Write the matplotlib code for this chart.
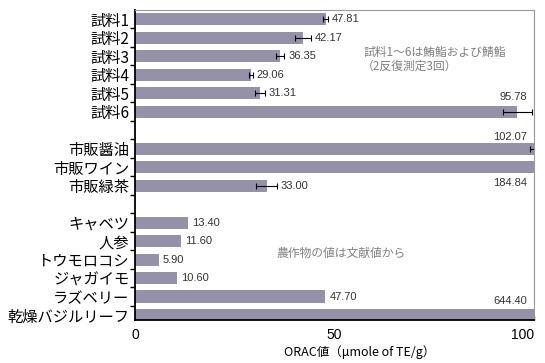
import matplotlib
matplotlib.use("Agg")
import matplotlib.pyplot as plt
import numpy as np

plt.rcParams['font.family'] = ['Noto Sans CJK JP', 'DejaVu Sans']

# ── data ─────────────────────────────────────────────────────────────────────
sample_labels = ["試料1", "試料2", "試料3", "試料4", "試料5", "試料6"]
sample_values = [47.81, 42.17, 36.35, 29.06, 31.31, 95.78]
sample_errors = [0.6, 2.0, 1.1, 0.5, 1.2, 3.6]

market_labels = ["市販醤油", "市販ワイン", "市販緑茶"]
market_values = [102.07, 184.84, 33.00]
market_errors = [3.0, 0.0, 2.6]

crop_labels = ["キャベツ", "人参", "トウモロコシ", "ジャガイモ", "ラズベリー", "乾燥バジルリーフ"]
crop_values = [13.40, 11.60, 5.90, 10.60, 47.70, 644.40]

x_ticks = [0, 50, 100]

# ── colours ──────────────────────────────────────────────────────────────────
C_BAR = "#9591a9"
C_NOTE = "#808080"
C_VAL = "#333333"
NUM_FONT = ["Liberation Sans", "DejaVu Sans"]

fig = plt.figure(figsize=(5.45, 3.63), dpi=100)
ax = fig.add_axes([135 / 545, 1 - 320 / 363, 399 / 545, 310 / 363])

# build rows: groups separated by one empty slot
labels, values, errors, pos = [], [], [], []
y = 0
for lbls, vals, errs in [(sample_labels, sample_values, sample_errors),
                         (market_labels, market_values, market_errors),
                         (crop_labels, crop_values, [0.0] * len(crop_values))]:
    for l, v, e in zip(lbls, vals, errs):
        labels.append(l); values.append(v); errors.append(e); pos.append(y)
        y += 1
    y += 1
pos = np.array(pos)
values = np.array(values)
errors = np.array(errors)

ax.barh(pos, values, height=0.65, color=C_BAR, zorder=2)
has_err = errors > 0
ax.errorbar(values[has_err], pos[has_err], xerr=errors[has_err], fmt="none",
            ecolor="black", elinewidth=0.8, capsize=2.2, capthick=0.8, zorder=3)

# value labels (bars reaching the right edge get their label above / below)
for p, v, e in zip(pos, values, errors):
    txt = f"{v:.2f}"
    if v > 90:
        if 150 < v < 200:
            dy = 0.86
        elif 100 < v < 110:
            dy = -0.6
        else:
            dy = -0.76
        ax.text(98.3, p + dy, txt, ha="right", va="center", fontsize=8,
                color=C_VAL, family=NUM_FONT)
    else:
        ax.text(v + e + 1.0, p, txt, ha="left", va="center", fontsize=8,
                color=C_VAL, family=NUM_FONT)

ax.set_xlim(0, 100)
ax.set_ylim(16.27, -0.49)
ax.set_yticks(pos)
ax.set_yticklabels(labels, fontsize=11)
ax.tick_params(axis="y", length=0, pad=4)
ax.set_yticks(np.arange(0.5, 16, 1), minor=True)
ax.tick_params(axis="y", which="minor", length=3.5, width=1.0, direction="out")

ax.set_xticks(x_ticks)
ax.set_xticklabels([str(t) for t in x_ticks], fontsize=10, family=NUM_FONT)
ax.tick_params(axis="x", length=3, width=1.0, direction="in", pad=6)
ax.get_xticklabels()[-1].set_ha("right")

for side in ["left", "bottom"]:
    ax.spines[side].set_color("black")
    ax.spines[side].set_linewidth(1.3)
for side in ["top", "right"]:
    ax.spines[side].set_color("#999999")
    ax.spines[side].set_linewidth(0.8)

# notes
fig.text(364 / 545, 1 - 52 / 363, "試料1〜6は鮪鮨および鯖鮨", fontsize=8.5,
         color=C_NOTE, ha="left", va="center")
fig.text(362 / 545, 1 - 66 / 363, "（2反復測定3回）", fontsize=8.5,
         color=C_NOTE, ha="left", va="center")
fig.text(277 / 545, 1 - 253 / 363, "農作物の値は文献値から", fontsize=8.5,
         color=C_NOTE, ha="left", va="center")

fig.text(360 / 545, 1 - 352 / 363, "ORAC値（μmole of TE/g）", fontsize=9,
         color="black", ha="center", va="center")

fig.savefig("out.png", dpi=100, facecolor="white")
